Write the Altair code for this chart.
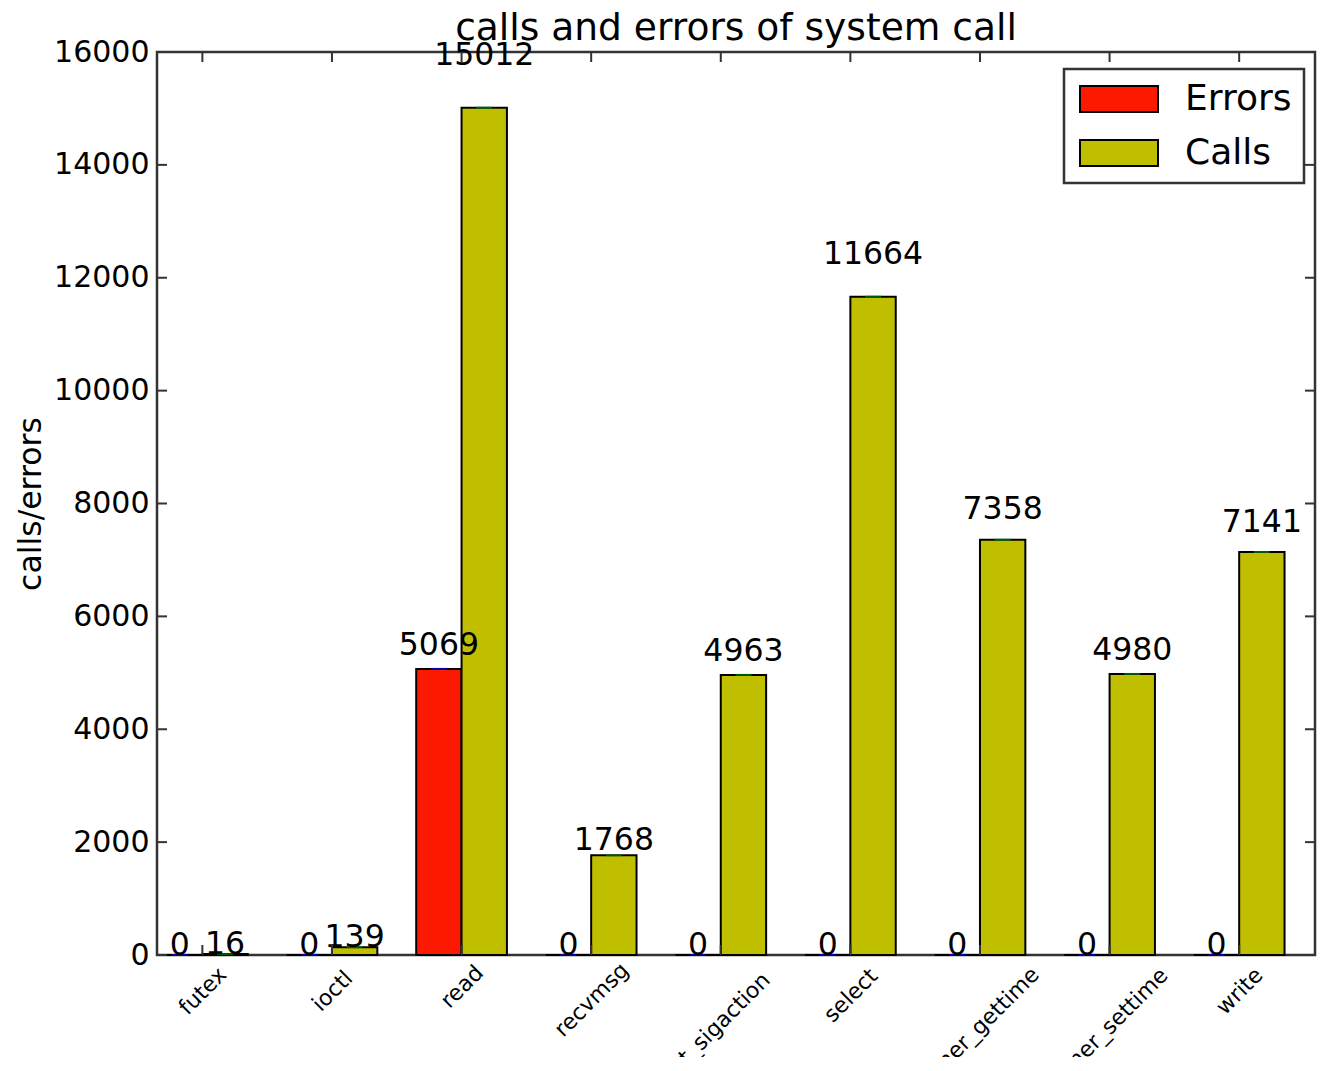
import json
import altair as alt
import pandas as pd

# ---- data ----
names = ["futex", "ioctl", "read", "recvmsg", "rt_sigaction", "select",
         "timer_gettime", "timer_settime", "write"]
errors = [0, 0, 5069, 0, 0, 0, 0, 0, 0]
calls = [16, 139, 15012, 1768, 4963, 11664, 7358, 4980, 7141]
series_names = ["Errors", "Calls"]
bar_colors = ["#fb1a00", "#bfbf00"]
top_colors = ["#0000ff", "#008000"]
y_ticks = list(range(0, 16001, 2000))
bar_w = 0.35

rows = []
for i, n in enumerate(names):
    for k, (s, vals) in enumerate(zip(series_names, [errors, calls])):
        x0 = i + k * bar_w
        rows.append(dict(name=n, series=s, x0=x0, x1=x0 + bar_w,
                         xc=x0 + bar_w / 2, value=vals[i], base=0,
                         label_y=vals[i] * 1.05))
df = pd.DataFrame(rows)
x_tick_vals = [i + bar_w for i in range(len(names))]
xtick_df = pd.DataFrame({"x": x_tick_vals})
ytick_df = pd.DataFrame({"value": y_ticks})

W, H = 1158, 903
X_MAX = 8.935
FRAME = "#333333"
FONT = "DejaVu Sans"

xscale = alt.Scale(domain=[0, X_MAX], nice=False, zero=False)
yscale = alt.Scale(domain=[0, 16000], nice=False)

names_js = json.dumps(names)
name_of = f"{names_js}[round(datum.value - {bar_w})]"

x_axis = alt.Axis(
    values=x_tick_vals, labelExpr=name_of, labelAngle=-45,
    labelAlign="center", labelBaseline="middle",
    labelPadding={"expr": f"5 + 0.354 * (25 + 12.3 * length({name_of}))"},
    labelFontSize=22, labelColor="black", labelFont=FONT,
    ticks=False, domain=False, grid=False, title=None,
    labelOverlap=False, labelFlush=False)

y_axis = alt.Axis(
    values=y_ticks, format="d", labelFontSize=30, labelColor="black",
    labelFont=FONT, ticks=False, domain=False, grid=False, labelPadding=8,
    title="calls/errors", titleFontSize=31.5, titleFontWeight="normal",
    titleColor="black", titleFont=FONT, titlePadding=6,
    labelFlush=False, labelOverlap=False)

legend = alt.Legend(
    title=None, orient="none", legendX=907, legendY=17,
    symbolType="M-3,-1H3V1H-3Z", symbolSize=676,
    symbolStrokeColor="black", symbolStrokeWidth=2, symbolOffset=25,
    labelOffset=48, labelFontSize=36, labelFont=FONT, labelColor="black",
    padding=12, rowPadding=18, strokeColor=FRAME, fillColor="white",
    labelLimit=0, symbolOpacity=1)

bars = alt.Chart(df).mark_bar(stroke="black", strokeWidth=2).encode(
    x=alt.X("x0:Q", scale=xscale, axis=x_axis),
    x2="x1:Q",
    y=alt.Y("value:Q", scale=yscale, axis=y_axis),
    y2="base:Q",
    color=alt.Color("series:N", sort=series_names,
                    scale=alt.Scale(domain=series_names, range=bar_colors),
                    legend=legend),
)

tops = alt.Chart(df).mark_tick(orient="horizontal", size=16, thickness=2).encode(
    x=alt.X("xc:Q", scale=xscale, axis=x_axis),
    y=alt.Y("value:Q", scale=yscale, axis=y_axis),
    color=alt.condition("datum.series == 'Errors'",
                        alt.value(top_colors[0]), alt.value(top_colors[1])),
)

texts = alt.Chart(df).mark_text(fontSize=31.5, baseline="alphabetic",
                                align="center", color="black",
                                font=FONT).encode(
    x=alt.X("xc:Q", scale=xscale, axis=x_axis),
    y=alt.Y("label_y:Q", scale=yscale, axis=y_axis),
    text=alt.Text("value:Q", format="d"),
)

tick_len = 10
xb = alt.Chart(xtick_df).mark_rule(color=FRAME, strokeWidth=2).encode(
    x=alt.X("x:Q", scale=xscale, axis=x_axis),
    y=alt.value(H), y2=alt.value(H - tick_len))
xt = alt.Chart(xtick_df).mark_rule(color=FRAME, strokeWidth=2).encode(
    x=alt.X("x:Q", scale=xscale, axis=x_axis),
    y=alt.value(0), y2=alt.value(tick_len))
yl = alt.Chart(ytick_df).mark_rule(color=FRAME, strokeWidth=2).encode(
    y=alt.Y("value:Q", scale=yscale, axis=y_axis),
    x=alt.value(0), x2=alt.value(tick_len))
yr = alt.Chart(ytick_df).mark_rule(color=FRAME, strokeWidth=2).encode(
    y=alt.Y("value:Q", scale=yscale, axis=y_axis),
    x=alt.value(W - tick_len), x2=alt.value(W))

chart = alt.layer(bars, tops, texts, xb, xt, yl, yr).properties(
    width=W, height=H,
    padding={"left": 149, "top": 44, "right": 2, "bottom": 102},
    autosize=alt.AutoSizeParams(type="none"),
    title=alt.TitleParams("calls and errors of system call", fontSize=37.6,
                          font=FONT, fontWeight="normal", color="black",
                          anchor="middle", offset=-11),
).configure(font=FONT).configure_view(
    stroke=FRAME, strokeWidth=2.5
).configure_legend(strokeWidth=2.5)

chart.save("out.html", embed_options={"renderer": "svg", "actions": False})
